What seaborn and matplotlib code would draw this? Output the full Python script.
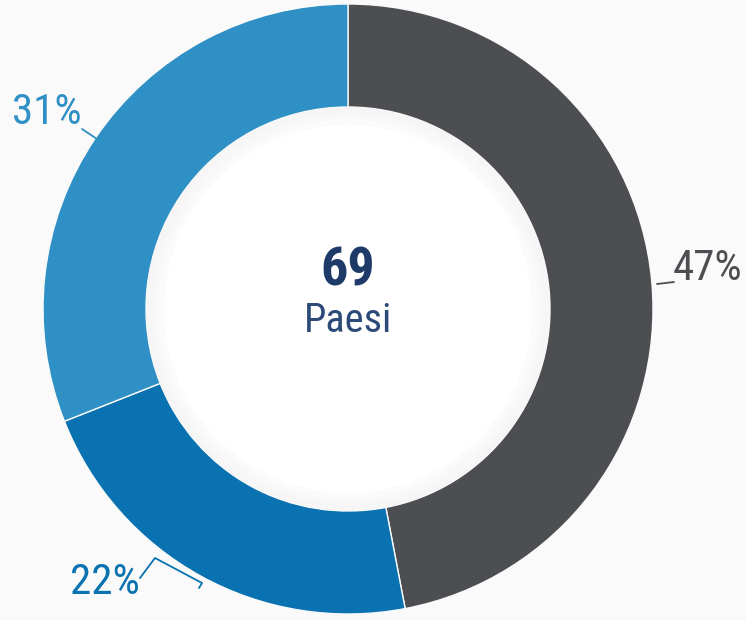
import matplotlib
matplotlib.use("Agg")
import matplotlib.pyplot as plt
from matplotlib.patches import Circle
import seaborn as sns

# Share of countries by group
labels = ["47%", "22%", "31%"]
shares = [47, 22, 31]
colors = ["#4d4e52", "#0a72b0", "#2e90c4"]
total_label = "69"
total_caption = "Paesi"

sns.set_theme(style="white")
fonts = ["Roboto Condensed", "Liberation Sans Narrow", "Roboto", "DejaVu Sans"]
plt.rcParams["font.family"] = fonts

W, H = 746, 620
bg = "#fafafa"
fig = plt.figure(figsize=(W / 100, H / 100), dpi=100, facecolor=bg)
ax = fig.add_axes([0, 0, 1, 1])
ax.set_facecolor(bg)

cx, cy = 348, 620 - 309
r_out, r_in = 305, 202

wedges, _ = ax.pie(
    shares,
    colors=colors,
    startangle=90,
    counterclock=False,
    radius=r_out,
    center=(cx, cy),
    wedgeprops=dict(width=r_out - r_in, edgecolor=bg, linewidth=1.0),
)

# soft inner shading ring
for rr, c in [(r_in, "#f6f6f6"), (r_in - 6, "#f8f8f8"), (r_in - 12, "#fbfbfb"), (r_in - 18, "#ffffff")]:
    ax.add_patch(Circle((cx, cy), rr, facecolor=c, edgecolor="none", zorder=3))

ax.text(cx, 620 - 271, total_label, ha="center", va="center", fontsize=39,
        fontweight="bold", color="#1e3a68", zorder=5)
ax.text(cx, 620 - 321, total_caption, ha="center", va="center", fontsize=29,
        color="#2b4a78", zorder=5)

# labels with leader lines (pixel coordinates, y from top)
label_pos = [(707, 269), (105, 582), (47, 113)]
leaders = [
    [(657, 284), (674, 282)],
    [(140, 578), (155, 558), (202, 583), (199, 588)],
    [(82, 129), (97, 139)],
]
for lab, col, (tx, ty), pts in zip(labels, colors, label_pos, leaders):
    ax.text(tx, 620 - ty, lab, ha="center", va="center", fontsize=31, color=col, zorder=5)
    xs = [p[0] for p in pts]
    ys = [620 - p[1] for p in pts]
    ax.plot(xs, ys, color=col, linewidth=1.3, zorder=5)

ax.set_xlim(0, W)
ax.set_ylim(0, H)
ax.set_aspect("equal")
ax.axis("off")

fig.savefig("out.png", dpi=100, facecolor=bg)
